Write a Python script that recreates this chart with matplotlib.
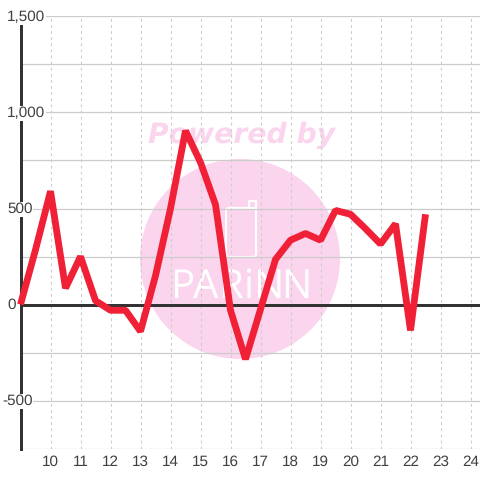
import matplotlib
matplotlib.use("Agg")
import matplotlib.pyplot as plt
from matplotlib.patches import Circle, FancyBboxPatch

plt.rcParams['font.family'] = ['Liberation Sans', 'DejaVu Sans']
plt.rcParams['text.hinting'] = 'none'

hours = [9, 9.5, 10, 10.5, 11, 11.5, 12, 12.5, 13, 13.5, 14, 14.5, 15, 15.5, 16,
         16.5, 17, 17.5, 18, 18.5, 19, 19.5, 20, 20.5, 21, 21.5, 22, 22.5]
values = [0, 285, 590, 85, 250, 20, -30, -30, -140, 150, 500, 905, 740, 520, -30,
          -285, -25, 235, 335, 370, 335, 490, 470, 395, 315, 420, -135, 470]
x_ticks = [10, 11, 12, 13, 14, 15, 16, 17, 18, 19, 20, 21, 22, 23, 24]
y_grid = [-750, -500, -250, 0, 250, 500, 750, 1000, 1250, 1500]
y_labels = {1500: '1,500', 1000: '1,000', 500: '500', 0: '0', -500: '-500'}

text_color = '#404040'
grid_color = '#cccccc'
axis_color = '#333333'
line_color = '#f02036'
mark_color = '#fbd5ee'

fig = plt.figure(figsize=(4.8, 4.8), dpi=100, facecolor='white')

# watermark sits under the chart, drawn in plain pixels
bg = fig.add_axes([0, 0, 1, 1], zorder=0)
bg.set_xlim(0, 480)
bg.set_ylim(480, 0)
bg.axis('off')
bg.add_patch(Circle((240, 259), 100, color=mark_color, lw=0))
bg.text(241.5, 135.5, 'Powered by', color=mark_color, fontsize=20.3, ha='center', va='center',
        family='DejaVu Sans', weight='bold', style='oblique')
bg.add_patch(FancyBboxPatch((226, 208), 30, 49, boxstyle='round,pad=0,rounding_size=3',
                            fc='none', ec='white', lw=1.5))
bg.plot([249, 249, 256, 256], [208, 201, 201, 208], color='white', lw=1.5)
logo_letters = 'PARiNN'
logo_x = [182, 206, 230, 249, 268, 296]
for letter, lx in zip(logo_letters, logo_x):
    bg.text(lx, 288, letter, color='white', fontsize=29, ha='center', va='center',
            family=['Liberation Sans Narrow', 'Open Sans'])

# main axes: 30px per hour, 96px per 500
ax = fig.add_axes([20.5 / 480, 31.5 / 480, 459.5 / 480, 432 / 480], zorder=1)
ax.patch.set_alpha(0)
ax.set_xlim(9, 9 + 459.5 / 30)
ax.set_ylim(-750, 1500)
for side in ['top', 'right', 'bottom', 'left']:
    ax.spines[side].set_visible(False)

ax.set_yticks(y_grid)
ax.set_xticks(x_ticks)
ax.set_yticklabels([])
ax.tick_params(length=0)
ax.tick_params(axis='x', labelsize=11, labelcolor=text_color, pad=4.5)
ax.set_axisbelow(True)
ax.grid(axis='y', color=grid_color, lw=0.9)
ax.grid(axis='x', color=grid_color, lw=0.8, ls=(0, (2.5, 3)))

# the axis line sits on the axes edge, so it must not be clipped
ax.axvline(9, color=axis_color, lw=2.16, zorder=2, clip_on=False)
ax.axhline(0, color=axis_color, lw=2.16, zorder=2)

ax.plot(hours, values, color=line_color, lw=4.9, solid_joinstyle='bevel',
        solid_capstyle='butt', clip_on=False, zorder=4)

for val, lab in y_labels.items():
    shift = -5 if val < 0 else 0
    ax.annotate(lab, xy=(0, val), xycoords=ax.get_yaxis_transform(),
                xytext=((-13.5 + shift) * 0.72, -0.5), textcoords='offset points',
                ha='left', va='center', fontsize=11, color=text_color, zorder=3,
                annotation_clip=False,
                bbox=dict(fc='white', ec='none', pad=0.3))

fig.savefig('out.png', dpi=100)
